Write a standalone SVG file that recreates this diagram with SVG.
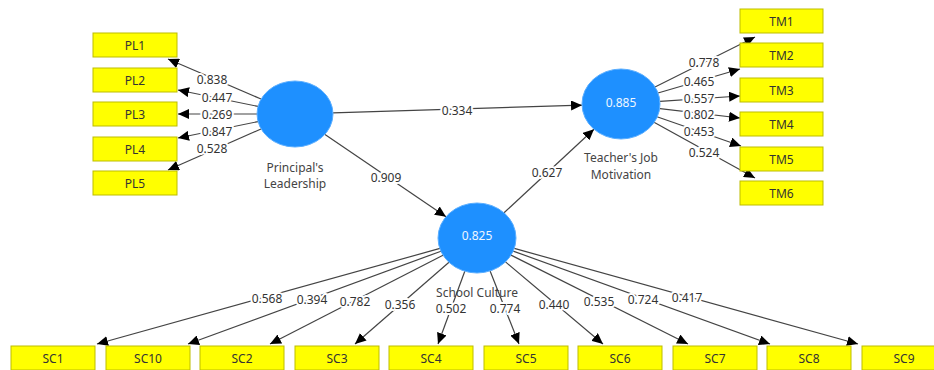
<svg xmlns="http://www.w3.org/2000/svg" width="934" height="370" viewBox="0 0 934 370">
<style>
.box{fill:#FFFF00;stroke:#BDBD00;stroke-width:1}
.bt{font-family:"Noto Sans","Open Sans",sans-serif;font-size:12px;fill:#333;text-anchor:middle;dominant-baseline:central}
.lv{fill:#1E90FF;stroke:#5aaeff;stroke-width:1}
.lt{font-family:"Noto Sans","Open Sans",sans-serif;font-size:12px;fill:#eef6ff;text-anchor:middle;dominant-baseline:central}
.nl{font-family:"Noto Sans","Open Sans",sans-serif;font-size:12px;fill:#444;text-anchor:middle;dominant-baseline:central}
.ln{stroke:#444;stroke-width:1.2;fill:none;marker-end:url(#ah)}
.cf{font-family:"Noto Sans","Open Sans",sans-serif;font-size:12px;fill:#333;text-anchor:middle;dominant-baseline:central;stroke:#fff;stroke-width:4;paint-order:stroke;stroke-linejoin:round}
</style>
<defs>
<marker id="ah" markerUnits="userSpaceOnUse" markerWidth="12" markerHeight="10" refX="11" refY="5" orient="auto">
<path d="M0,0 L11,5 L0,10 z" fill="#000"/>
</marker>
</defs>
<rect width="934" height="370" fill="#fff"/>
<g id="connectors">
<line class="ln" x1="261" y1="99" x2="168" y2="59"/>
<line class="ln" x1="258" y1="106.4" x2="178" y2="90"/>
<line class="ln" x1="257" y1="114" x2="178" y2="114"/>
<line class="ln" x1="258" y1="121.6" x2="178" y2="138"/>
<line class="ln" x1="261" y1="129" x2="168" y2="170"/>
<line class="ln" x1="655" y1="87" x2="755" y2="37"/>
<line class="ln" x1="658" y1="93" x2="740" y2="69"/>
<line class="ln" x1="660" y1="101.4" x2="740" y2="96"/>
<line class="ln" x1="660" y1="108.6" x2="740" y2="118"/>
<line class="ln" x1="657" y1="116.7" x2="741" y2="146"/>
<line class="ln" x1="654" y1="122.3" x2="755" y2="178"/>
<line class="ln" x1="440" y1="248.4" x2="97" y2="344"/>
<line class="ln" x1="441" y1="251.2" x2="188" y2="344"/>
<line class="ln" x1="443" y1="255.3" x2="270" y2="344"/>
<line class="ln" x1="449" y1="262.3" x2="355" y2="344"/>
<line class="ln" x1="464.8" y1="271.2" x2="438" y2="344"/>
<line class="ln" x1="490.1" y1="271" x2="519" y2="344"/>
<line class="ln" x1="505.5" y1="261.9" x2="603" y2="344"/>
<line class="ln" x1="511" y1="255.1" x2="688" y2="344"/>
<line class="ln" x1="513.2" y1="251.1" x2="770" y2="344"/>
<line class="ln" x1="514.3" y1="248.4" x2="858" y2="344"/>
<line class="ln" x1="333" y1="112.8" x2="582" y2="105.2"/>
<line class="ln" x1="325" y1="134.4" x2="446" y2="216.8"/>
<line class="ln" x1="504" y1="212.8" x2="594" y2="129.2"/>
<text class="cf" x="212" y="79">0.838</text>
<text class="cf" x="217" y="97">0.447</text>
<text class="cf" x="217" y="114">0.269</text>
<text class="cf" x="217" y="131">0.847</text>
<text class="cf" x="212" y="148">0.528</text>
<text class="cf" x="704" y="62">0.778</text>
<text class="cf" x="699" y="81">0.465</text>
<text class="cf" x="699" y="98">0.557</text>
<text class="cf" x="699" y="114">0.802</text>
<text class="cf" x="699" y="131">0.453</text>
<text class="cf" x="704" y="152">0.524</text>
<text class="cf" x="267" y="298">0.568</text>
<text class="cf" x="312" y="299">0.394</text>
<text class="cf" x="355" y="301">0.782</text>
<text class="cf" x="400" y="304">0.356</text>
<text class="cf" x="451" y="308">0.502</text>
<text class="cf" x="505" y="308">0.774</text>
<text class="cf" x="554" y="304">0.440</text>
<text class="cf" x="599" y="301">0.535</text>
<text class="cf" x="643" y="299">0.724</text>
<text class="cf" x="687" y="297">0.417</text>
<text class="cf" x="457" y="110">0.334</text>
<text class="cf" x="386" y="177">0.909</text>
<text class="cf" x="547" y="172">0.627</text>
</g>
<g id="PL">
<ellipse class="lv" cx="295" cy="114" rx="38" ry="33"/>
<text class="nl" x="295" y="167">Principal's</text>
<text class="nl" x="295" y="183">Leadership</text>
</g>
<g id="TM">
<ellipse class="lv" cx="621" cy="104" rx="39" ry="35"/>
<text class="lt" x="621" y="102">0.885</text>
<text class="nl" x="621" y="157">Teacher's Job</text>
<text class="nl" x="621" y="174">Motivation</text>
</g>
<g id="SC">
<ellipse class="lv" cx="477" cy="238" rx="39" ry="35"/>
<text class="lt" x="477" y="235">0.825</text>
<text class="nl" x="477" y="292">School Culture</text>
</g>
<g id="PL1"><rect class="box" x="93" y="33" width="84" height="24"/><text class="bt" x="135" y="45">PL1</text></g>
<g id="PL2"><rect class="box" x="93" y="68" width="84" height="24"/><text class="bt" x="135" y="80">PL2</text></g>
<g id="PL3"><rect class="box" x="93" y="102" width="84" height="24"/><text class="bt" x="135" y="114">PL3</text></g>
<g id="PL4"><rect class="box" x="93" y="137" width="84" height="24"/><text class="bt" x="135" y="149">PL4</text></g>
<g id="PL5"><rect class="box" x="93" y="171" width="84" height="24"/><text class="bt" x="135" y="183">PL5</text></g>
<g id="TM1"><rect class="box" x="740" y="9" width="83" height="24"/><text class="bt" x="781.5" y="21">TM1</text></g>
<g id="TM2"><rect class="box" x="740" y="43" width="83" height="24"/><text class="bt" x="781.5" y="55">TM2</text></g>
<g id="TM3"><rect class="box" x="740" y="78" width="83" height="24"/><text class="bt" x="781.5" y="90">TM3</text></g>
<g id="TM4"><rect class="box" x="740" y="112" width="83" height="24"/><text class="bt" x="781.5" y="124">TM4</text></g>
<g id="TM5"><rect class="box" x="740" y="147" width="83" height="24"/><text class="bt" x="781.5" y="159">TM5</text></g>
<g id="TM6"><rect class="box" x="740" y="181" width="83" height="24"/><text class="bt" x="781.5" y="193">TM6</text></g>
<g id="SC1"><rect class="box" x="11" y="346" width="84" height="24"/><text class="bt" x="53" y="358">SC1</text></g>
<g id="SC10"><rect class="box" x="106" y="346" width="84" height="24"/><text class="bt" x="148" y="358">SC10</text></g>
<g id="SC2"><rect class="box" x="200" y="346" width="84" height="24"/><text class="bt" x="242" y="358">SC2</text></g>
<g id="SC3"><rect class="box" x="295" y="346" width="84" height="24"/><text class="bt" x="337" y="358">SC3</text></g>
<g id="SC4"><rect class="box" x="389" y="346" width="84" height="24"/><text class="bt" x="431" y="358">SC4</text></g>
<g id="SC5"><rect class="box" x="484" y="346" width="84" height="24"/><text class="bt" x="526" y="358">SC5</text></g>
<g id="SC6"><rect class="box" x="578" y="346" width="84" height="24"/><text class="bt" x="620" y="358">SC6</text></g>
<g id="SC7"><rect class="box" x="673" y="346" width="84" height="24"/><text class="bt" x="715" y="358">SC7</text></g>
<g id="SC8"><rect class="box" x="767" y="346" width="84" height="24"/><text class="bt" x="809" y="358">SC8</text></g>
<g id="SC9"><rect class="box" x="862" y="346" width="84" height="24"/><text class="bt" x="904" y="358">SC9</text></g>
</svg>
